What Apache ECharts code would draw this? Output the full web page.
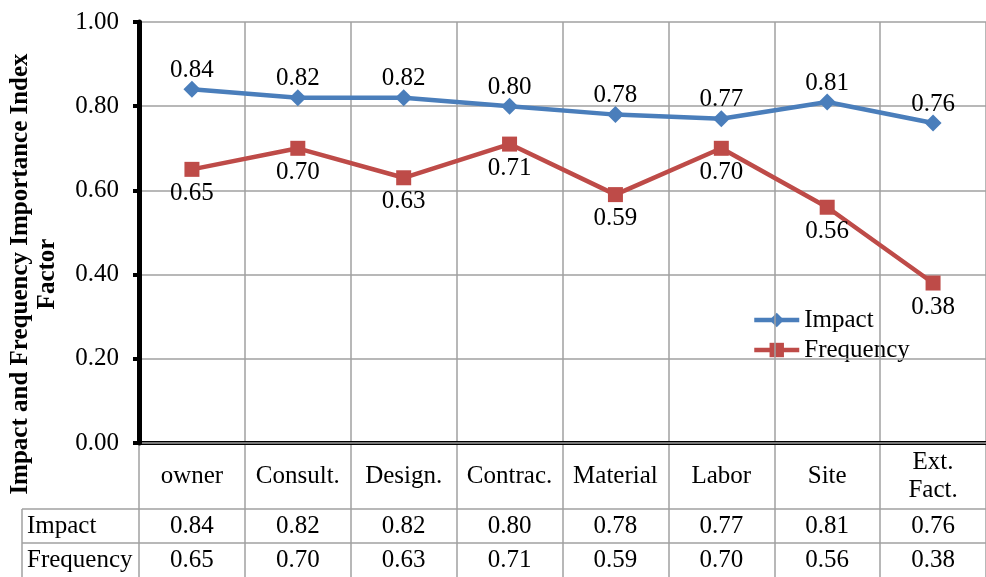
<!DOCTYPE html>
<html>
<head>
<meta charset="utf-8">
<script src="https://cdn.jsdelivr.net/npm/echarts@6/dist/echarts.min.js"></script>
<style>
  html, body { margin: 0; padding: 0; background: #fff; }
  #chart { width: 986px; height: 577px; }
</style>
</head>
<body>
<div id="chart"></div>
<script>
// Factor groups along the x axis
const categories = ['owner', 'Consult.', 'Design.', 'Contrac.', 'Material', 'Labor', 'Site', 'Ext.\nFact.'];
// Importance index per factor group
const impactValues = [0.84, 0.82, 0.82, 0.80, 0.78, 0.77, 0.81, 0.76];
const frequencyValues = [0.65, 0.70, 0.63, 0.71, 0.59, 0.70, 0.56, 0.38];
// Value axis ticks
const yTicks = [0.00, 0.20, 0.40, 0.60, 0.80, 1.00];
const seriesNames = ['Impact', 'Frequency'];
const yTitle = 'Impact and Frequency Importance Index\nFactor';

const FONT = '"Liberation Serif", "Times New Roman", serif';
const FS = 25;
const BLUE = '#4a7ebb';
const RED = '#be4b48';
const GRID_GRAY = '#a0a0a0';
const fmt = v => Number(v).toFixed(2);

const chart = echarts.init(document.getElementById('chart'), null, { renderer: 'canvas' });

const plotLeft = 139, plotRight = -11, plotTop = 22, axisY = 443;
const rowY = [526, 560];   // centre lines of the table rows
const catRowY = 476;       // centre line of the category row

// hidden-line axis that only prints a row of table values
function tableRow(values, y) {
  return {
    type: 'category',
    gridIndex: 0,
    position: 'bottom',
    data: values.map(fmt),
    boundaryGap: true,
    axisLine: { show: false },
    axisTick: { show: false },
    splitLine: { show: false },
    axisLabel: {
      interval: 0, margin: y - axisY, verticalAlign: 'middle',
      color: '#000', fontSize: FS, fontFamily: FONT
    }
  };
}

const option = {
  animation: false,
  backgroundColor: '#fff',
  grid: [
    { left: plotLeft, right: plotRight, top: plotTop, bottom: 577 - axisY },
    { left: plotLeft, right: plotRight, top: axisY, bottom: 0 }
  ],
  xAxis: [
    {
      type: 'category',
      gridIndex: 0,
      position: 'bottom',
      data: categories,
      boundaryGap: true,
      axisLine: { show: true, lineStyle: { color: '#000', width: 4 } },
      axisTick: { show: false },
      splitLine: { show: true, lineStyle: { color: GRID_GRAY, width: 1.5 } },
      axisLabel: {
        interval: 0, margin: catRowY - axisY, verticalAlign: 'middle',
        color: '#000', fontSize: FS, lineHeight: 28, fontFamily: FONT
      },
      z: 5
    },
    tableRow(impactValues, rowY[0]),
    tableRow(frequencyValues, rowY[1]),
    {
      // column rules running through the table
      type: 'category',
      gridIndex: 1,
      data: categories,
      boundaryGap: true,
      axisLine: { show: false },
      axisTick: { show: false },
      axisLabel: { show: false },
      splitLine: { show: true, lineStyle: { color: GRID_GRAY, width: 1.5 } }
    }
  ],
  yAxis: [
    {
      type: 'value',
      gridIndex: 0,
      min: yTicks[0],
      max: yTicks[yTicks.length - 1],
      interval: yTicks[1] - yTicks[0],
      axisLine: { show: true, lineStyle: { color: '#000', width: 5 } },
      axisTick: { show: true, length: 6, lineStyle: { color: '#000', width: 4 } },
      splitLine: { show: true, lineStyle: { color: GRID_GRAY, width: 1.5 } },
      axisLabel: { margin: 20, color: '#000', fontSize: FS, fontFamily: FONT, formatter: fmt },
      z: 6
    },
    { type: 'value', gridIndex: 1, show: false, splitLine: { show: false } }
  ],
  legend: {
    orient: 'vertical',
    left: 752,
    top: 305,
    padding: 0,
    itemWidth: 45,
    itemHeight: 18,
    itemGap: 0,
    lineStyle: { width: 4.5 },
    textStyle: { color: '#000', fontSize: FS, lineHeight: 30, fontFamily: FONT },
    data: seriesNames
  },
  series: [
    {
      name: seriesNames[0],
      type: 'line',
      data: impactValues,
      symbol: 'diamond',
      symbolSize: 17,
      color: BLUE,
      lineStyle: { width: 4.5, color: BLUE },
      itemStyle: { color: BLUE },
      label: {
        show: true, position: 'top', distance: -2,
        color: '#000', fontSize: FS, fontFamily: FONT,
        formatter: p => fmt(p.value)
      },
      z: 10
    },
    {
      name: seriesNames[1],
      type: 'line',
      data: frequencyValues,
      symbol: 'rect',
      symbolSize: 15,
      color: RED,
      lineStyle: { width: 4.5, color: RED },
      itemStyle: { color: RED },
      label: {
        show: true, position: 'bottom', distance: 4,
        color: '#000', fontSize: FS, fontFamily: FONT,
        formatter: p => fmt(p.value)
      },
      z: 10
    }
  ],
  graphic: [
    {
      type: 'text',
      x: 34, y: 274,
      rotation: Math.PI / 2,
      style: {
        text: yTitle,
        fill: '#000',
        font: 'bold 25px ' + FONT,
        lineHeight: 27,
        textAlign: 'center',
        textVerticalAlign: 'middle'
      }
    },
    // row header cell and horizontal table rules
    { type: 'line', shape: { x1: 22, y1: 509, x2: 986, y2: 509 }, style: { stroke: GRID_GRAY, lineWidth: 1.5 } },
    { type: 'line', shape: { x1: 22, y1: 543, x2: 986, y2: 543 }, style: { stroke: GRID_GRAY, lineWidth: 1.5 } },
    { type: 'line', shape: { x1: 22, y1: 509, x2: 22, y2: 577 }, style: { stroke: GRID_GRAY, lineWidth: 1.5 } },
    {
      type: 'text', x: 27, y: rowY[0],
      style: { text: seriesNames[0], fill: '#000', font: FS + 'px ' + FONT, textAlign: 'left', textVerticalAlign: 'middle' }
    },
    {
      type: 'text', x: 27, y: rowY[1],
      style: { text: seriesNames[1], fill: '#000', font: FS + 'px ' + FONT, textAlign: 'left', textVerticalAlign: 'middle' }
    }
  ]
};

chart.setOption(option);
</script>
</body>
</html>
